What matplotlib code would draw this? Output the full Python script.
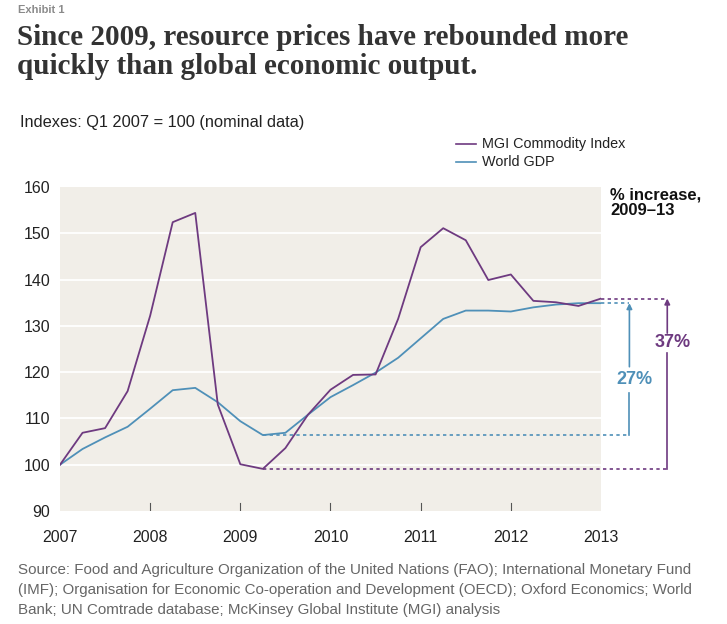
import numpy as np
import matplotlib.pyplot as plt

# quarterly data, Q1 2007 .. Q1 2013
quarters = 2007 + np.arange(25) / 4
commodity = [100.0, 106.9, 107.9, 115.9, 132.2, 152.4, 154.4, 113.0, 100.1, 99.1,
             103.6, 110.8, 116.2, 119.4, 119.5, 131.5, 147.0, 151.1, 148.5, 139.9,
             141.1, 135.4, 135.1, 134.3, 135.9]
gdp = [100.0, 103.4, 105.9, 108.2, 112.1, 116.1, 116.6, 113.5, 109.4, 106.4,
       106.9, 110.8, 114.6, 117.2, 119.9, 123.1, 127.3, 131.5, 133.3, 133.3,
       133.1, 134.0, 134.6, 134.9, 134.9]
years = [2007, 2008, 2009, 2010, 2011, 2012, 2013]
yticks = [90, 100, 110, 120, 130, 140, 150, 160]

purple = '#6e3a80'
blue = '#4f90b8'
bg = '#f1eee8'
sans = 'Liberation Sans'

fig = plt.figure(figsize=(7.27, 6.24), dpi=100)
ax = fig.add_axes([60 / 727, 1 - 511 / 624, 541 / 727, 324 / 624])
ax.set_facecolor(bg)
ax.set_xlim(2007, 2013)
ax.set_ylim(90, 160)
for s in ax.spines.values():
    s.set_visible(False)
for y in yticks[1:-1]:
    ax.axhline(y, color='white', lw=1.3, zorder=1)

ax.plot(quarters, gdp, color=blue, lw=1.3, zorder=3)
ax.plot(quarters, commodity, color=purple, lw=1.3, zorder=4)

ax.set_yticks(yticks)
ax.set_yticklabels([str(v) for v in yticks], fontsize=11.5, family=sans, color='#222222')
ax.set_xticks(years)
ax.set_xticklabels([str(v) for v in years], fontsize=11.5, family=sans, color='#222222')
ax.tick_params(axis='y', length=0, pad=7)
ax.tick_params(axis='x', length=0, pad=14)
for yr in years[1:-1]:
    ax.plot([yr, yr], [90, 91.7], color='#555555', lw=0.8, zorder=5)

# % increase markers from 2009 Q2 low to 2013 Q1
i0 = 9
marks = [(gdp, blue, 2013.315, 0.42, 2.8, '27%'),
         (commodity, purple, 2013.735, 0.74, 2.1, '37%')]
for vals, col, xa, frac, gap, label in marks:
    lo, hi = vals[i0], vals[-1]
    pct = round((hi / lo - 1) * 100)
    ax.plot([quarters[i0], xa], [lo, lo], color=col, lw=1.2, ls=(0, (2, 2)), clip_on=False, zorder=2)
    ax.plot([quarters[-1], xa], [hi, hi], color=col, lw=1.2, ls=(0, (2, 2)), clip_on=False, zorder=2)
    ymid = lo + (hi - lo) * frac
    ax.plot([xa, xa], [lo, ymid - gap], color=col, lw=1.2, clip_on=False)
    ax.annotate('', xy=(xa, hi), xytext=(xa, ymid + gap),
                arrowprops=dict(arrowstyle='-|>', color=col, lw=1.2, mutation_scale=8,
                                shrinkA=0, shrinkB=0), annotation_clip=False)
    ax.text(xa + 0.06, ymid, f'{pct}%', color=col, fontsize=13, fontweight='bold',
            family=sans, ha='center', va='center', clip_on=False)

fig.text(610 / 727, 1 - 203 / 624, '% increase,\n2009–13', fontsize=12, fontweight='bold',
         family=sans, color='#111111', va='center', linespacing=1.0)

# legend
for yl, col, name in [(144, purple, 'MGI Commodity Index'), (162, blue, 'World GDP')]:
    fig.add_artist(plt.Line2D([456 / 727, 476 / 727], [1 - yl / 624, 1 - yl / 624], color=col, lw=1.2))
    fig.text(482 / 727, 1 - yl / 624, name, fontsize=10.4, family=sans, color='#222222', va='center')

fig.text(18 / 727, 1 - 10 / 624, 'Exhibit 1', fontsize=8, fontweight='bold', family=sans,
         color='#8a8a8a', va='center')
fig.text(17 / 727, 1 - 52 / 624, 'Since 2009, resource prices have rebounded more\nquickly than global economic output.',
         fontsize=21, fontweight='bold', family='Liberation Serif', color='#333333', va='center',
         linespacing=1.05)
fig.text(20 / 727, 1 - 122 / 624, 'Indexes: Q1 2007 = 100 (nominal data)', fontsize=11.8, family=sans,
         color='#222222', va='center')
fig.text(18 / 727, 1 - 590 / 624,
         'Source: Food and Agriculture Organization of the United Nations (FAO); International Monetary Fund\n'
         '(IMF); Organisation for Economic Co-operation and Development (OECD); Oxford Economics; World\n'
         'Bank; UN Comtrade database; McKinsey Global Institute (MGI) analysis',
         fontsize=10.9, family=sans, color='#666666', va='center', linespacing=1.55)

fig.savefig('out.png', dpi=100, facecolor='white')
